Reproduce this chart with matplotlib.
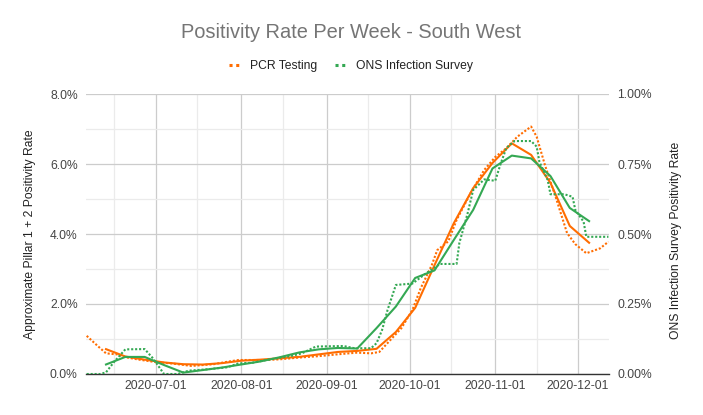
import matplotlib
matplotlib.use("Agg")
import matplotlib.pyplot as plt
import matplotlib.dates as mdates
from matplotlib.ticker import FixedLocator, FuncFormatter
from matplotlib.lines import Line2D
import pandas as pd

plt.rcParams['font.family'] = ['Liberation Sans', 'DejaVu Sans']

# ---------------- data ----------------
title = "Positivity Rate Per Week - South West"
left_label = "Approximate Pillar 1 + 2 Positivity Rate"
right_label = "ONS Infection Survey Positivity Rate"
series_names = ["PCR Testing", "ONS Infection Survey"]

week_dates = ["2020-06-13", "2020-06-20", "2020-06-27", "2020-07-04", "2020-07-11",
              "2020-07-18", "2020-07-25", "2020-08-01", "2020-08-08", "2020-08-15",
              "2020-08-22", "2020-08-29", "2020-09-05", "2020-09-12", "2020-09-19",
              "2020-09-26", "2020-10-03", "2020-10-10", "2020-10-17", "2020-10-24",
              "2020-10-31", "2020-11-07", "2020-11-14", "2020-11-21", "2020-11-28",
              "2020-12-05"]
# weekly lines (percent)
pcr_weekly = [0.71, 0.50, 0.41, 0.33, 0.28, 0.27, 0.31, 0.38, 0.41, 0.45,
              0.49, 0.56, 0.63, 0.66, 0.72, 1.20, 1.89, 3.11, 4.31, 5.31,
              6.03, 6.59, 6.26, 5.46, 4.23, 3.75]
ons_weekly = [0.034, 0.061, 0.061, 0.032, 0.005, 0.014, 0.023, 0.034, 0.045, 0.060,
              0.077, 0.088, 0.093, 0.091, 0.164, 0.241, 0.343, 0.370, 0.479, 0.586,
              0.734, 0.780, 0.770, 0.707, 0.593, 0.546]

# dotted lines (percent)
pcr_dates = ["2020-06-06", "2020-06-10", "2020-06-13", "2020-06-17", "2020-06-20",
             "2020-06-25", "2020-07-01", "2020-07-07", "2020-07-14", "2020-07-22",
             "2020-07-27", "2020-07-31", "2020-08-10", "2020-08-15", "2020-08-22",
             "2020-08-29", "2020-09-06", "2020-09-12", "2020-09-17", "2020-09-20",
             "2020-09-24", "2020-09-28", "2020-10-02", "2020-10-05", "2020-10-09",
             "2020-10-11", "2020-10-15", "2020-10-18", "2020-10-23", "2020-10-28",
             "2020-11-01", "2020-11-05", "2020-11-09", "2020-11-14", "2020-11-16",
             "2020-11-19", "2020-11-23", "2020-11-27", "2020-11-30", "2020-12-04",
             "2020-12-09", "2020-12-12"]
pcr_values = [1.09, 0.80, 0.59, 0.56, 0.48, 0.41, 0.34, 0.30, 0.23, 0.28,
              0.35, 0.40, 0.40, 0.42, 0.47, 0.51, 0.57, 0.61, 0.59, 0.63,
              0.97, 1.31, 1.83, 2.45, 3.11, 3.54, 3.79, 4.40, 5.16, 5.83,
              6.20, 6.45, 6.78, 7.07, 6.78, 5.97, 5.03, 4.03, 3.71, 3.45,
              3.59, 3.78]

ons_dates = ["2020-06-06", "2020-06-11", "2020-06-13", "2020-06-16", "2020-06-20",
             "2020-06-27", "2020-06-30", "2020-07-03", "2020-07-04", "2020-07-09",
             "2020-07-13", "2020-07-20", "2020-07-27", "2020-07-31", "2020-08-05",
             "2020-08-10", "2020-08-15", "2020-08-19", "2020-08-23", "2020-08-28",
             "2020-09-07", "2020-09-11", "2020-09-17", "2020-09-19", "2020-09-21",
             "2020-09-23", "2020-09-26", "2020-10-02", "2020-10-07", "2020-10-12",
             "2020-10-18", "2020-10-19", "2020-10-22", "2020-10-24", "2020-10-28",
             "2020-11-01", "2020-11-03", "2020-11-05", "2020-11-08", "2020-11-14",
             "2020-11-16", "2020-11-17", "2020-11-20", "2020-11-21", "2020-11-26",
             "2020-11-29", "2020-11-30", "2020-12-03", "2020-12-04", "2020-12-09",
             "2020-12-12"]
ons_values = [0.0, 0.0, 0.006, 0.044, 0.088, 0.089, 0.056, 0.014, 0.0, 0.0,
              0.012, 0.017, 0.024, 0.038, 0.040, 0.050, 0.058, 0.064, 0.074, 0.098,
              0.100, 0.092, 0.092, 0.110, 0.157, 0.229, 0.318, 0.323, 0.360, 0.393,
              0.393, 0.468, 0.574, 0.657, 0.695, 0.690, 0.752, 0.807, 0.832, 0.832,
              0.812, 0.758, 0.693, 0.642, 0.642, 0.633, 0.586, 0.544, 0.490, 0.490,
              0.490]

left_ticks = [0, 2, 4, 6, 8]
right_ticks = [0, 0.25, 0.5, 0.75, 1.0]
x_tick_dates = ["2020-07-01", "2020-08-01", "2020-09-01", "2020-10-01", "2020-11-01", "2020-12-01"]
x_minor_dates = ["2020-06-16", "2020-07-16", "2020-08-16", "2020-09-16", "2020-10-16", "2020-11-16"]

# ---------------- styling ----------------
ORANGE = "#ff6d01"
GREEN = "#34a853"
TXT = "#444444"
FS = 8.7
DOT = (0, (1, 0.9))

fig = plt.figure(figsize=(7.03, 4.15), dpi=100)
W, H = 703, 415
ax = fig.add_axes([86 / W, 1 - 374 / H, (609 - 86) / W, (374 - 94) / H])
ax2 = ax.twinx()

wd = pd.to_datetime(week_dates)
ax.plot(pd.to_datetime(pcr_dates), pcr_values, color=ORANGE, lw=1.5, linestyle=DOT, zorder=3)
ax.plot(wd, pcr_weekly, color=ORANGE, lw=1.5, zorder=4, solid_joinstyle='round')
ax2.plot(pd.to_datetime(ons_dates), ons_values, color=GREEN, lw=1.5, linestyle=DOT, zorder=3)
ax2.plot(wd, ons_weekly, color=GREEN, lw=1.5, zorder=4, solid_joinstyle='round')

ax.set_xlim(pd.Timestamp("2020-06-05 18:00"), pd.Timestamp("2020-12-12 05:00"))
ax.set_ylim(0, 8)
ax2.set_ylim(0, 1.0)

ax.yaxis.set_major_locator(FixedLocator(left_ticks))
ax.yaxis.set_minor_locator(FixedLocator([1, 3, 5, 7]))
ax.yaxis.set_major_formatter(FuncFormatter(lambda v, p: f"{v:.1f}%"))
ax2.yaxis.set_major_locator(FixedLocator(right_ticks))
ax2.yaxis.set_major_formatter(FuncFormatter(lambda v, p: f"{v:.2f}%"))

ax.xaxis.set_major_locator(FixedLocator(mdates.date2num(pd.to_datetime(x_tick_dates))))
ax.xaxis.set_minor_locator(FixedLocator(mdates.date2num(pd.to_datetime(x_minor_dates))))
ax.xaxis.set_major_formatter(mdates.DateFormatter("%Y-%m-%d"))

ax.grid(True, which='major', color='#cccccc', lw=0.9)
ax.grid(True, which='minor', color='#ebebeb', lw=0.9)
ax.set_axisbelow(True)

for a in (ax, ax2):
    for s in ('top', 'left', 'right', 'bottom'):
        a.spines[s].set_visible(False)
ax.spines['bottom'].set_visible(True)
ax.spines['bottom'].set_color('#333333')
ax.spines['bottom'].set_linewidth(1.0)

ax.tick_params(axis='both', which='both', length=0, labelsize=FS, labelcolor=TXT)
ax.tick_params(axis='y', pad=6)
ax.tick_params(axis='x', pad=4)
ax2.tick_params(axis='y', which='both', length=0, labelsize=FS, labelcolor=TXT, pad=6)

fig.text(30 / W, 1 - 234 / H, left_label, rotation=90, ha='center', va='center',
         fontsize=FS, color='#222222')
fig.text(676 / W, 1 - 240 / H, right_label, rotation=90, ha='center', va='center',
         fontsize=FS, color='#222222')

fig.text(351 / W, 1 - 33 / H, title, ha='center', va='center', fontsize=14.4, color='#757575')

handles = [Line2D([], [], color=ORANGE, lw=2.2, linestyle=(0, (1, 1.2))),
           Line2D([], [], color=GREEN, lw=2.2, linestyle=(0, (1, 1.2)))]
fig.legend(handles, series_names, loc='center', bbox_to_anchor=(351 / W, 1 - 66 / H),
           ncol=2, frameon=False, fontsize=FS, handlelength=1.1, handletextpad=0.7,
           columnspacing=1.4, labelcolor='#222222')

fig.savefig("out.png", dpi=100)
